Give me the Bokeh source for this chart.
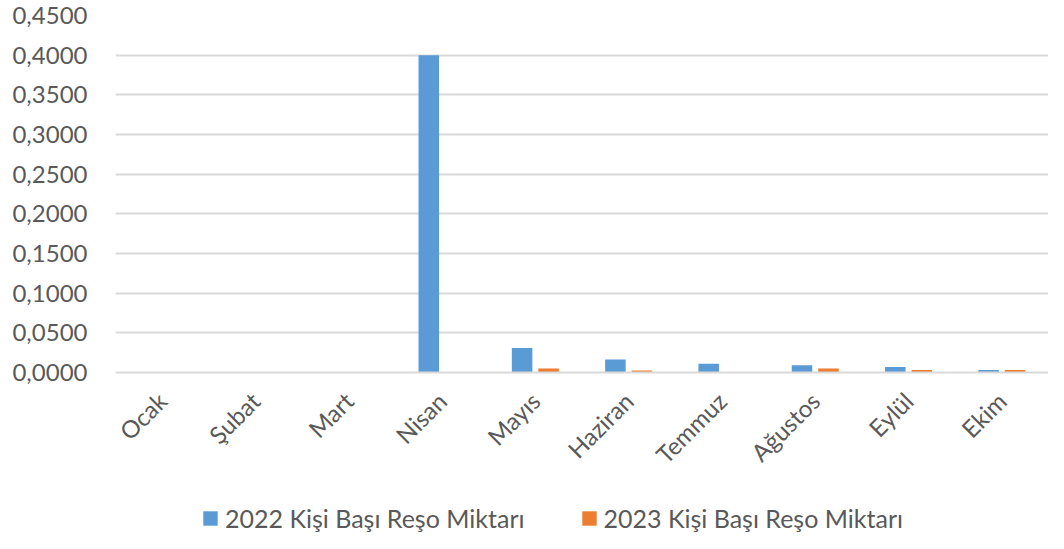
from bokeh.plotting import figure
from bokeh.models import ColumnDataSource, FixedTicker, CustomJSTickFormatter, Legend, LegendItem, Range1d
from bokeh.layouts import column
from bokeh.transform import dodge
from bokeh.embed import file_html
from bokeh.resources import INLINE
import math

months = ["Ocak", "Şubat", "Mart", "Nisan", "Mayıs", "Haziran", "Temmuz", "Ağustos", "Eylül", "Ekim"]
values_2022 = [0, 0, 0, 0.400, 0.031, 0.0165, 0.011, 0.009, 0.007, 0.003]
values_2023 = [0, 0, 0, 0, 0.005, 0.0025, 0, 0.005, 0.003, 0.003]
series_names = ["2022 Kişi Başı Reşo Miktarı", "2023 Kişi Başı Reşo Miktarı"]
y_ticks = [0.0, 0.05, 0.10, 0.15, 0.20, 0.25, 0.30, 0.35, 0.40, 0.45]

FONT = "Lato"
TXT = "#595959"
GRID = "#D9D9D9"
BLUE = "#5B9BD5"
ORANGE = "#ED7D31"
FS = "24px"

src = ColumnDataSource(dict(m=months, a=values_2022, b=values_2023))

p = figure(x_range=months, y_range=(0, 0.45), width=1048, height=485,
           output_backend="svg", toolbar_location=None,
           min_border_left=115, min_border_right=0, min_border_top=15, min_border_bottom=113)
p.outline_line_color = None
p.background_fill_color = "white"
p.border_fill_color = "white"

p.vbar(x=dodge("m", -0.142, range=p.x_range), top="a", width=0.22, source=src,
       fill_color=BLUE, line_color=None)
p.vbar(x=dodge("m", 0.142, range=p.x_range), top="b", width=0.22, source=src,
       fill_color=ORANGE, line_color=None)

p.xgrid.grid_line_color = None
p.ygrid.grid_line_color = GRID
p.ygrid.grid_line_width = 2

p.yaxis.ticker = FixedTicker(ticks=y_ticks)
p.yaxis.formatter = CustomJSTickFormatter(code="return tick.toFixed(4).replace('.', ',');")
p.yaxis.axis_line_color = None
p.yaxis.major_tick_line_color = None
p.yaxis.minor_tick_line_color = None
p.yaxis.major_label_text_font = FONT
p.yaxis.major_label_text_font_size = FS
p.yaxis.major_label_text_color = TXT
p.yaxis.major_label_standoff = 22

p.xaxis.axis_line_color = GRID
p.xaxis.axis_line_width = 2
p.xaxis.major_tick_line_color = None
p.xaxis.minor_tick_line_color = None
p.xaxis.major_label_orientation = math.pi / 4
p.xaxis.major_label_text_font = FONT
p.xaxis.major_label_text_font_size = FS
p.xaxis.major_label_text_color = TXT
p.xaxis.major_label_standoff = 18

# legend strip (its dummy renderers sit below its visible y-range, so only the legend shows)
lg = figure(width=1048, height=48, output_backend="svg", toolbar_location=None,
            x_axis_type=None, y_axis_type=None,
            x_range=months, y_range=Range1d(1, 2),
            min_border_left=0, min_border_right=0, min_border_top=0, min_border_bottom=0)
lg.outline_line_color = None
lg.xgrid.grid_line_color = None
lg.ygrid.grid_line_color = None
lg.background_fill_color = "white"
d1 = lg.vbar(x="m", top="a", width=0.1, source=src, fill_color=BLUE, line_color=None)
d2 = lg.vbar(x="m", top="b", width=0.1, source=src, fill_color=ORANGE, line_color=None)

legend = Legend(items=[LegendItem(label=series_names[0], renderers=[d1], index=0),
                       LegendItem(label=series_names[1], renderers=[d2], index=0)],
                location=(86, 0), orientation="horizontal")
legend.glyph_width = 18
legend.glyph_height = 18
legend.spacing = 55
legend.label_text_font = FONT
legend.label_text_font_size = "25px"
legend.label_text_color = TXT
legend.border_line_color = None
legend.background_fill_alpha = 0
legend.padding = 0
legend.margin = 0
legend.label_standoff = 6
lg.add_layout(legend, "center")

layout = column(p, lg, spacing=0)
open("out.html", "w").write(file_html(layout, INLINE))
